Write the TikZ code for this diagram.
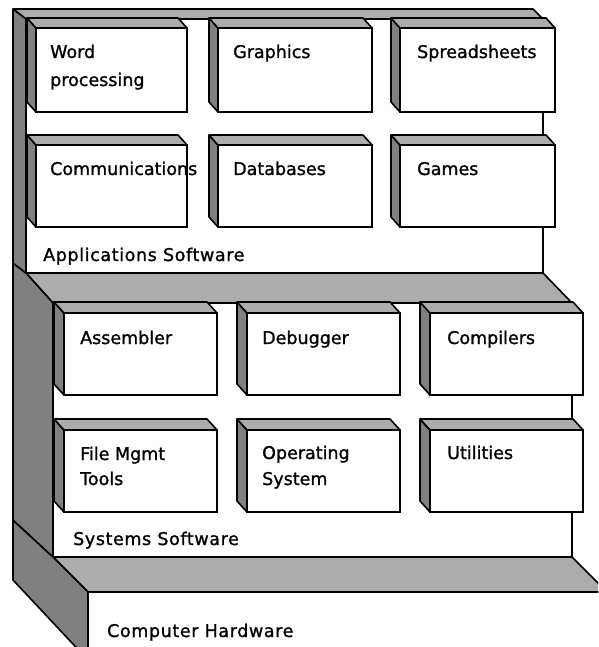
\documentclass[tikz,border=0pt]{standalone}
\usepackage{fontspec}
\setmainfont{DejaVu Sans}
\newfontfamily\boxfont[FakeBold=1.2]{DejaVu Sans}
\newfontfamily\panelfont[FakeBold=1.2,LetterSpace=3.5]{DejaVu Sans}
\definecolor{bevgray}{RGB}{128,128,128}
\definecolor{dotgray}{RGB}{172,172,172}
\tikzset{
  sidebev/.style={fill=bevgray, draw=black, line width=1.6pt, line join=round},
  topbev/.style={fill=dotgray, draw=black, line width=1.6pt, line join=round},
  face/.style={fill=white, draw=black, line width=2.6pt},
  lbl/.style={anchor=base west, inner sep=0pt, font=\boxfont\fontsize{17.5}{20}\selectfont},
  plbl/.style={anchor=base west, inner sep=0pt, font=\panelfont\fontsize{17.5}{20}\selectfont},
}
\newcommand\mybevbox[6]{%
  \draw[sidebev] (#1,#2) -- ({#1-#5},{#2-#6}) -- ({#1-#5},{#4-#6}) -- (#1,#4) -- cycle;
  \draw[topbev] (#1,#2) -- ({#1-#5},{#2-#6}) -- ({#3-#5},{#2-#6}) -- (#3,#2) -- cycle;
  \draw[face] (#1,#2) rectangle (#3,#4);
}
\begin{document}
\begin{tikzpicture}[x=1pt,y=-1pt]
\useasboundingbox (0,0) rectangle (598,647);
\clip (0,0) rectangle (598,647);
\fill[white] (0,0) rectangle (598,647);
% ---- Panel 3: Computer Hardware
\draw[face] (88,592) rectangle (640,680);
\draw[topbev] (53,557) -- (572,557) -- (607,592) -- (88,592) -- cycle;
\draw[sidebev] (13,520) -- (53,557) -- (88,592) -- (88,660) -- (13,580) -- cycle;
% ---- Panel 2: Systems Software
\draw[face] (53,303) rectangle (572,557);
\draw[topbev] (26,273) -- (543,273) -- (572,303) -- (53,303) -- cycle;
\draw[sidebev] (13,263) -- (26,273) -- (53,303) -- (53,557) -- (13,520) -- cycle;
% ---- Panel 1: Applications Software
\draw[face] (26,19) rectangle (543,273);
\draw[topbev] (13,9) -- (533,9) -- (543,19) -- (26,19) -- cycle;
\draw[sidebev] (13,9) -- (26,19) -- (26,273) -- (13,263) -- cycle;
% ---- Application boxes
\mybevbox{36}{28}{187}{112}{9}{10}
\mybevbox{218}{28}{372}{112}{9}{10}
\mybevbox{400}{28}{555}{112}{9}{10}
\mybevbox{36}{145}{187}{227}{9}{10}
\mybevbox{218}{145}{372}{227}{9}{10}
\mybevbox{400}{145}{555}{227}{9}{10}
% ---- System boxes
\mybevbox{64}{313}{217}{395}{10}{11}
\mybevbox{247}{313}{400}{395}{10}{11}
\mybevbox{430}{313}{583}{395}{10}{11}
\mybevbox{64}{430}{217}{512}{10}{11}
\mybevbox{247}{430}{400}{512}{10}{11}
\mybevbox{430}{430}{583}{512}{10}{11}
% ---- Labels
\node[lbl] (wp1) at (50,58) {Word};
\node[lbl] (wp2) at (50,86) {processing};
\node[lbl] (gr) at (233,58) {Graphics};
\node[lbl] (ss) at (417,58) {Spreadsheets};
\node[lbl] (co) at (50,175) {Communications};
\node[lbl] (db) at (233,175) {Databases};
\node[lbl] (ga) at (417,175) {Games};
\node[plbl] (app) at (43,261) {Applications Software};
\node[lbl] (as) at (80,344) {Assembler};
\node[lbl] (de) at (262,344) {Debugger};
\node[lbl] (cp) at (447,344) {Compilers};
\node[lbl] (fm1) at (80,460) {File Mgmt};
\node[lbl] (fm2) at (80,485) {Tools};
\node[lbl] (os1) at (262,459) {Operating};
\node[lbl] (os2) at (262,485) {System};
\node[lbl] (ut) at (447,459) {Utilities};
\node[plbl] (sys) at (73,545) {Systems Software};
\node[plbl] (hw) at (107,637) {Computer Hardware};
\end{tikzpicture}
\end{document}
